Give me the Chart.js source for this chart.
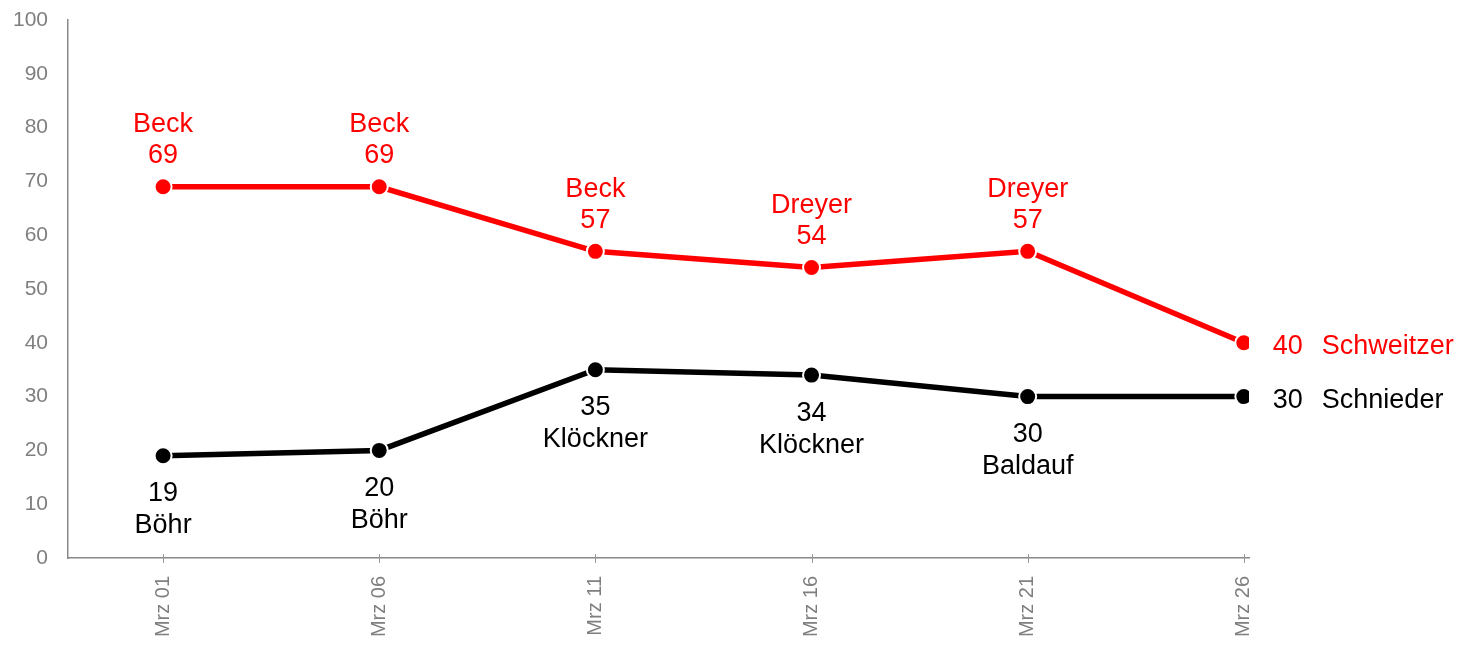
<!DOCTYPE html>
<html>
<head>
<meta charset="utf-8">
<script src="https://cdn.jsdelivr.net/npm/chart.js@4/dist/chart.umd.min.js"></script>
<style>
  body { margin: 0; background: #fff; }
  #wrap { width: 1463px; height: 645px; }
</style>
</head>
<body>
<div id="wrap"><canvas id="myChart"></canvas></div>
<script>
// data
const dateLabels = ["Mrz 01", "Mrz 06", "Mrz 11", "Mrz 16", "Mrz 21", "Mrz 26"];
const days = [1, 6, 11, 16, 21, 26];
const redValues = [69, 69, 57, 54, 57, 40];
const redNames = ["Beck", "Beck", "Beck", "Dreyer", "Dreyer", "Schweitzer"];
const blackValues = [19, 20, 35, 34, 30, 30];
const blackNames = ["Böhr", "Böhr", "Klöckner", "Klöckner", "Baldauf", "Schnieder"];

const FONT = "'Liberation Sans', Arial, sans-serif";

// labels next to the points
const pointLabels = {
  id: "pointLabels",
  afterDatasetsDraw(chart) {
    const ctx = chart.ctx;
    ctx.save();
    ctx.font = "27px " + FONT;
    ctx.textBaseline = "middle";
    chart.data.datasets.forEach((ds, i) => {
      const meta = chart.getDatasetMeta(i);
      const last = meta.data.length - 1;
      ctx.fillStyle = ds.borderColor;
      meta.data.forEach((pt, j) => {
        const val = ds.data[j].y;
        const name = ds.names[j];
        if (j == last) {
          ctx.textAlign = "left";
          ctx.fillText(val, pt.x + 29, pt.y + 4);
          ctx.fillText(name, pt.x + 78, pt.y + 4);
        } else if (ds.above) {
          ctx.textAlign = "center";
          ctx.fillText(val, pt.x, pt.y - 31);
          ctx.fillText(name, pt.x, pt.y - 62);
        } else {
          ctx.textAlign = "center";
          ctx.fillText(val, pt.x, pt.y + 38);
          ctx.fillText(name, pt.x, pt.y + 70);
        }
      });
    });
    ctx.restore();
  }
};

// x tick marks crossing the axis line
const crossTicks = {
  id: "crossTicks",
  afterDraw(chart) {
    const ctx = chart.ctx;
    const x = chart.scales.x;
    ctx.save();
    ctx.strokeStyle = "#999";
    ctx.lineWidth = 1;
    days.forEach((d) => {
      const px = Math.round(x.getPixelForValue(d)) + 0.5;
      ctx.beginPath();
      ctx.moveTo(px, x.top - 4);
      ctx.lineTo(px, x.top + 5);
      ctx.stroke();
    });
    ctx.restore();
  }
};

function makeSet(values, names, color, above) {
  return {
    data: values.map((v, i) => ({ x: days[i], y: v })),
    names: names,
    above: above,
    borderColor: color,
    backgroundColor: color,
    borderWidth: 5.5,
    pointRadius: 8.5,
    pointBorderColor: "#fff",
    pointBorderWidth: 2,
    pointBackgroundColor: color,
    tension: 0
  };
}

new Chart(document.getElementById("myChart"), {
  type: "line",
  data: {
    datasets: [
      makeSet(redValues, redNames, "#ff0000", true),
      makeSet(blackValues, blackNames, "#000000", false)
    ]
  },
  options: {
    responsive: true,
    maintainAspectRatio: false,
    animation: false,
    layout: { padding: { top: 20, right: 214, left: 0, bottom: 0 } },
    plugins: { legend: { display: false }, tooltip: { enabled: false } },
    scales: {
      x: {
        type: "linear",
        min: -1.2,
        max: 26.12,
        afterBuildTicks: (s) => { s.ticks = days.map((d) => ({ value: d })); },
        afterFit: (s) => { s.height = 87; s.paddingLeft = 0; s.paddingRight = 0; },
        grid: { drawOnChartArea: false, drawTicks: false },
        border: { color: "#888", width: 1.5 },
        ticks: {
          autoSkip: false,
          minRotation: 90,
          maxRotation: 90,
          padding: 18,
          color: "#7f7f7f",
          font: { family: FONT, size: 20 },
          callback: (v, i) => dateLabels[i]
        }
      },
      y: {
        min: 0,
        max: 100,
        afterFit: (s) => { s.width = 68; s.paddingTop = 0; s.paddingBottom = 0; },
        grid: { display: false },
        border: { display: true, color: "#888", width: 1.5 },
        ticks: {
          stepSize: 10,
          padding: 12,
          color: "#7f7f7f",
          font: { family: FONT, size: 21 }
        }
      }
    }
  },
  plugins: [pointLabels, crossTicks]
});
</script>
</body>
</html>
